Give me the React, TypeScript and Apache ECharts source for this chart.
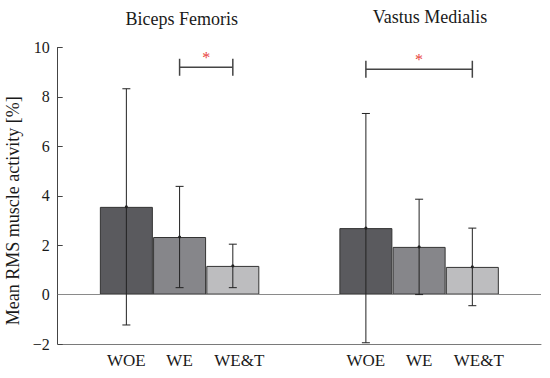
import React, { useEffect, useRef } from "react";
import * as echarts from "echarts";

const FONT = '"Liberation Serif", "Times New Roman", Times, serif';

const conditions = ["WOE", "WE", "WE&T"];
const muscles = ["Biceps Femoris", "Vastus Medialis"];
const meanBF = [3.55, 2.33, 1.16];
const sdBF = [4.78, 2.05, 0.88];
const meanVM = [2.69, 1.93, 1.12];
const sdVM = [4.64, 1.93, 1.57];
const sigPairs = [
  [1, 2],
  [0, 2],
];
const sigLevel = [9.2, 9.12];
const barColors = ["#5a5a5e", "#86868a", "#bdbdbf"];
const yMin = -2;
const yMax = 10;
const yInterval = 2;

const GROUP_STEP = 4.5;
const X_MIN = -1.29;
const X_MAX = 7.79;
const pos = (g: number, c: number) => g * GROUP_STEP + c;

export default function App() {
  const ref = useRef<HTMLDivElement>(null);
  useEffect(() => {
    if (!ref.current) return;
    const chart = echarts.init(ref.current, null, { renderer: "svg" });
    const means = [meanBF, meanVM];
    const sds = [sdBF, sdVM];

    const barSeries = conditions.map((name, c) => ({
      type: "bar",
      name,
      barWidth: 53,
      barGap: "-100%",
      data: muscles.map((_, g) => [pos(g, c), means[g][c]]),
      itemStyle: { color: barColors[c], borderColor: "#333", borderWidth: 1 },
      z: 2,
      ...(c === 0
        ? {
            markLine: {
              silent: true,
              symbol: "none",
              label: { show: false },
              lineStyle: { color: "#8a8a8a", type: "solid", width: 1 },
              data: [[{ coord: [X_MIN, 0] }, { coord: [X_MAX, 0] }]],
            },
          }
        : {}),
    }));

    const errData: number[][] = [];
    muscles.forEach((_, g) =>
      conditions.forEach((__, c) => errData.push([pos(g, c), means[g][c], sds[g][c]]))
    );

    const sigData = sigPairs.map((p, g) => [pos(g, p[0]), pos(g, p[1]), sigLevel[g]]);

    const labelFor = (v: number) => {
      const c = Math.round(v >= 4 ? v - GROUP_STEP : v);
      return conditions[c] ?? "";
    };

    chart.setOption({
      animation: false,
      textStyle: { fontFamily: FONT },
      grid: { left: 57.7, right: 9, top: 47.5, bottom: 34, outerBoundsMode: "none", containLabel: false },
      xAxis: {
        type: "value",
        min: X_MIN,
        max: X_MAX,
        splitLine: { show: false },
        axisTick: { show: false },
        axisLine: { show: true, onZero: false, lineStyle: { color: "#7a7a7a", width: 1 } },
        axisLabel: {
          customValues: [0, 1, 2, 4.5, 5.5, 6.5],
          margin: 8,
          fontSize: 17,
          fontFamily: FONT,
          color: "#1a1a1a",
          formatter: (v: number) => {
            const t = labelFor(v);
            return t === "WE&T" ? "{s|" + t + "}" : t;
          },
          rich: {
            s: { fontSize: 17, fontFamily: FONT, color: "#1a1a1a", padding: [0, 0, 0, 13] },
          },
        },
      },
      yAxis: {
        type: "value",
        min: yMin,
        max: yMax,
        interval: yInterval,
        splitLine: { show: false },
        axisLine: { show: true, onZero: false, lineStyle: { color: "#444", width: 1 } },
        axisTick: { show: true, inside: true, length: 5, lineStyle: { color: "#444" } },
        axisLabel: {
          fontSize: 16,
          fontFamily: FONT,
          color: "#1a1a1a",
          margin: 8,
          formatter: (v: number) => (v < 0 ? "\u2212" + Math.abs(v) : String(v)),
        },
        name: "Mean RMS muscle activity [%]",
        nameLocation: "middle",
        nameGap: 28,
        nameTextStyle: {
          fontSize: 18,
          fontFamily: FONT,
          color: "#1a1a1a",
          padding: [0, 30, 0, 0],
        },
      },
      graphic: [
        {
          type: "text",
          x: 181.7,
          y: 19,
          style: {
            text: muscles[0],
            align: "center",
            verticalAlign: "middle",
            fontSize: 18,
            fontFamily: FONT,
            fill: "#1a1a1a",
          },
        },
        {
          type: "text",
          x: 430,
          y: 16.5,
          style: {
            text: muscles[1],
            align: "center",
            verticalAlign: "middle",
            fontSize: 18,
            fontFamily: FONT,
            fill: "#1a1a1a",
          },
        },
      ],
      series: [
        ...barSeries,
        {
          type: "custom",
          name: "sd",
          data: errData,
          encode: { x: 0, y: 1 },
          z: 5,
          renderItem: (params: any, api: any) => {
            const x = api.value(0);
            const m = api.value(1);
            const s = api.value(2);
            const top = api.coord([x, m + s]);
            const bot = api.coord([x, m - s]);
            const mid = api.coord([x, m]);
            const w = 4;
            const st = { stroke: "#222", lineWidth: 1 };
            return {
              type: "group",
              children: [
                { type: "line", shape: { x1: top[0], y1: top[1], x2: bot[0], y2: bot[1] }, style: st },
                { type: "line", shape: { x1: top[0] - w, y1: top[1], x2: top[0] + w, y2: top[1] }, style: st },
                { type: "line", shape: { x1: bot[0] - w, y1: bot[1], x2: bot[0] + w, y2: bot[1] }, style: st },
                { type: "circle", shape: { cx: mid[0], cy: mid[1], r: 1.5 }, style: { fill: "#222" } },
              ],
            };
          },
        },
        {
          type: "custom",
          name: "sig",
          data: sigData,
          encode: { x: [0, 1], y: 2 },
          z: 5,
          renderItem: (params: any, api: any) => {
            const a = api.coord([api.value(0), api.value(2)]);
            const b = api.coord([api.value(1), api.value(2)]);
            const h = 8.5;
            const st = { stroke: "#444", lineWidth: 1.5 };
            return {
              type: "group",
              children: [
                { type: "line", shape: { x1: a[0], y1: a[1], x2: b[0], y2: b[1] }, style: st },
                { type: "line", shape: { x1: a[0], y1: a[1] - h, x2: a[0], y2: a[1] + h }, style: st },
                { type: "line", shape: { x1: b[0], y1: b[1] - h, x2: b[0], y2: b[1] + h }, style: st },
                {
                  type: "text",
                  x: (a[0] + b[0]) / 2,
                  y: a[1] - 10,
                  style: {
                    text: "*",
                    align: "center",
                    verticalAlign: "middle",
                    fontSize: 16,
                    fontFamily: FONT,
                    fill: "#e8413c",
                  },
                },
              ],
            };
          },
        },
      ],
    });
    return () => chart.dispose();
  }, []);
  return (
    <div
      ref={ref}
      style={{ position: "absolute", left: 0, top: 0, width: 550, height: 378, background: "#fff" }}
    />
  );
}
